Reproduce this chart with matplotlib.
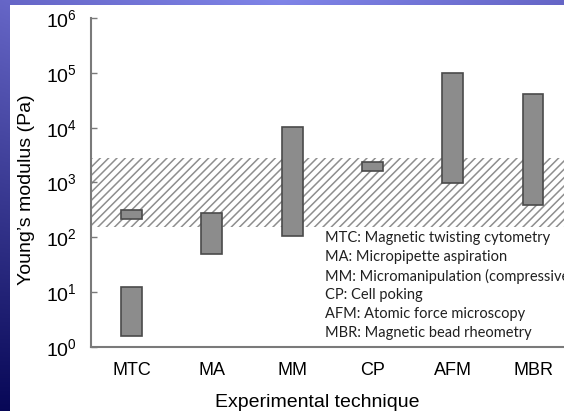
import numpy as np
import matplotlib
matplotlib.use("Agg")
import matplotlib.pyplot as plt
from matplotlib.patches import Rectangle

# ---- data ----
techniques = ["MTC", "MA", "MM", "CP", "AFM", "MBR"]
# ranges (low, high) of Young's modulus in Pa; MTC has two ranges
range_tech = ["MTC", "MTC", "MA", "MM", "CP", "AFM", "MBR"]
range_low = [1.6, 215, 50, 105, 1630, 980, 390]
range_high = [12.4, 316, 279, 10300, 2400, 100000, 41000]
band_low, band_high = 155, 2800
legend_lines = [
    "MTC: Magnetic twisting cytometry",
    "MA: Micropipette aspiration",
    "MM: Micromanipulation (compressive)",
    "CP: Cell poking",
    "AFM: Atomic force microscopy",
    "MBR: Magnetic bead rheometry",
]
ytick_exps = [0, 1, 2, 3, 4, 5, 6]

plt.rcParams["mathtext.fontset"] = "custom"
plt.rcParams["mathtext.rm"] = "Liberation Sans"
plt.rcParams["mathtext.it"] = "Liberation Sans:italic"
plt.rcParams["font.family"] = ["Liberation Sans", "DejaVu Sans"]
plt.rcParams["hatch.linewidth"] = 1.1

W, H = 564, 411
fig = plt.figure(figsize=(W / 100, H / 100), dpi=100)

# slide background gradient
bg = fig.add_axes([0, 0, 1, 1], zorder=-10)
bg.set_axis_off()
yy, xx = np.mgrid[0:1:200j, 0:1:300j]
top = np.array([0.40, 0.40, 0.78])
mid = np.array([0.50, 0.52, 0.91])
bot = np.array([0.03, 0.03, 0.34])
hx = 1 - np.abs(xx - 0.5) * 2
col_top = top[None, None, :] * (1 - hx[..., None]) + mid[None, None, :] * hx[..., None]
img = col_top * (1 - yy[..., None]) + bot[None, None, :] * yy[..., None]
bg.imshow(img, extent=[0, 1, 0, 1], aspect="auto", origin="upper")
bg.set_xlim(0, 1)
bg.set_ylim(0, 1)
bg.add_patch(Rectangle((10 / W, 0), 1, 1 - 5 / H, facecolor="white", edgecolor="none"))

# main axes
x_left, x_right = 91, 564
y_top, y_bot = 18, 347
ax = fig.add_axes([x_left / W, (H - y_bot) / H, (x_right - x_left) / W, (y_bot - y_top) / H])
ax.set_facecolor("none")

pos = {t: i for i, t in enumerate(techniques)}
ax.set_xlim(-0.504, 5.386)
ax.set_yscale("log")
ax.set_ylim(1, 1e6)

ax.axhspan(band_low, band_high, facecolor="white", edgecolor="#8e8e8e",
           hatch="////", linewidth=0, zorder=1)

bw = 0.26
for t, lo, hi in zip(range_tech, range_low, range_high):
    x = pos[t]
    ax.bar(x, hi - lo, bottom=lo, width=bw, color="#8c8c8c",
           edgecolor="#4a4a4a", linewidth=1.2, zorder=3)

for s in ["top", "right"]:
    ax.spines[s].set_visible(False)
for s in ["left", "bottom"]:
    ax.spines[s].set_color("#7a7a7a")
    ax.spines[s].set_linewidth(1.5)

ax.set_xticks(range(len(techniques)))
ax.set_xticklabels(techniques, fontsize=13)
ax.tick_params(axis="x", length=0, pad=11)
ax.set_yticks([10.0 ** e for e in ytick_exps])
ax.set_yticklabels([r"$10^{%d}$" % e for e in ytick_exps], fontsize=14)
ax.yaxis.set_minor_locator(matplotlib.ticker.NullLocator())
ax.tick_params(axis="y", direction="in", length=4, width=1, color="#7a7a7a", pad=10)

ax.set_xlabel("Experimental technique", fontsize=14)
ax.xaxis.label.set_va("baseline")
ax.xaxis.set_label_coords(0.479, -0.182)
ax.set_ylabel("Young\u2019s modulus (Pa)", fontsize=14)
ax.yaxis.set_label_coords(-0.118, 0.477)

for i, line in enumerate(legend_lines):
    fig.text(325 / W, 1 - (238 + 19 * i) / H, line, fontsize=10.5,
             family=["Lato", "DejaVu Sans"], color="#202020", va="center", ha="left")

fig.savefig("out.png", dpi=100)
